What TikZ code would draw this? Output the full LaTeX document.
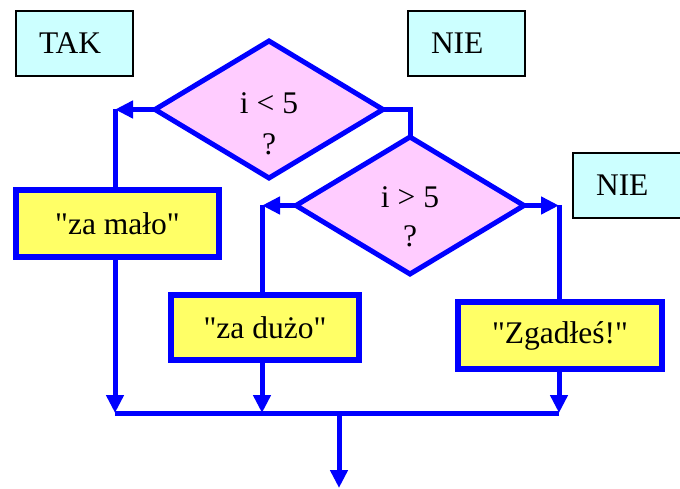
\documentclass[tikz,border=0pt]{standalone}
\usepackage{fontspec}
\setmainfont{Liberation Serif}[Ligatures=TeXOff]
\usetikzlibrary{shapes.geometric,arrows.meta}
\definecolor{flowblue}{RGB}{0,0,255}
\definecolor{decpink}{RGB}{255,204,255}
\definecolor{actyellow}{RGB}{255,255,102}
\definecolor{tagcyan}{RGB}{204,255,255}

\begin{document}
\begin{tikzpicture}[x=1pt,y=-1pt,
  font=\fontsize{31.5}{36}\selectfont,
  decbox/.style={diamond, draw=flowblue, fill=decpink, line width=5pt,
    inner sep=0pt, outer sep=0pt, minimum width=228pt, minimum height=137pt},
  actbox/.style={rectangle, draw=flowblue, fill=actyellow, line width=6pt,
    inner sep=0pt, outer sep=0pt},
  tagbox/.style={rectangle, draw=black, fill=tagcyan, line width=1.5pt,
    minimum width=117pt, minimum height=65pt, inner xsep=23pt, inner ysep=0pt,
    text width=71pt, align=left},
  flow/.style={draw=flowblue, line width=5pt},
  flowarrow/.style={flow, -{Triangle[length=18pt,width=17pt]}},
]
\useasboundingbox (0,0) rectangle (680,489);
\clip (0,0) rectangle (680,489);

% branch labels
\node[tagbox] (tak)  at (74.5,43.5)  {TAK};
\node[tagbox] (nie1) at (466.5,43.5) {NIE};
\node[tagbox] (nie2) at (631.5,185.5) {NIE};

% decisions
\node[decbox] (d1) at (269,109.5) {};
\node (d1q) at (269,103) {i < 5};
\node (d1m) at (269,144) {?};

\node[decbox] (d2) at (410,205.5) {};
\node (d2q) at (410,197) {i > 5};
\node (d2m) at (410,236) {?};

% actions
\node[actbox, minimum width=203pt, minimum height=67pt] (low) at (117.5,223.5) {"za mało"};
\node[actbox, minimum width=188pt, minimum height=65pt] (high) at (265,327.5) {"za dużo"};
\node[actbox, minimum width=204pt, minimum height=67pt] (hit) at (560,335.5) {"Zgadłeś!"};

% branch corners and joins
\coordinate (c1) at (115,108);
\coordinate (c2) at (262,204);
\coordinate (c3) at (559,206);
\coordinate (j1) at (115,413);
\coordinate (j2) at (262,413);
\coordinate (j3) at (559,413);
\coordinate (m)  at (339,413);
\coordinate (exit) at (339,488);

% i < 5 : yes
\draw[flowarrow] (d1.west) -- (d1.west -| c1);
\draw[flow] (d1.west -| c1) -- (c1 |- low.north);
% i < 5 : no
\draw[flow] (d1.east) -| (d2.north);
% i > 5 : yes
\draw[flowarrow] (d2.west) -- (d2.west -| c2);
\draw[flow] (d2.west -| c2) -- (c2 |- high.north);
% i > 5 : no
\draw[flowarrow] (d2.east) -- (d2.east -| c3);
\draw[flow] (d2.east -| c3) -- (c3 |- hit.north);

% merge
\draw[flowarrow] (low.south -| j1) -- (j1);
\draw[flowarrow] (high.south -| j2) -- (j2);
\draw[flowarrow] (hit.south -| j3) -- (j3);
\draw[flow] (j1) -- (j3);
\draw[flowarrow] (m) -- (exit);
\end{tikzpicture}
\end{document}
